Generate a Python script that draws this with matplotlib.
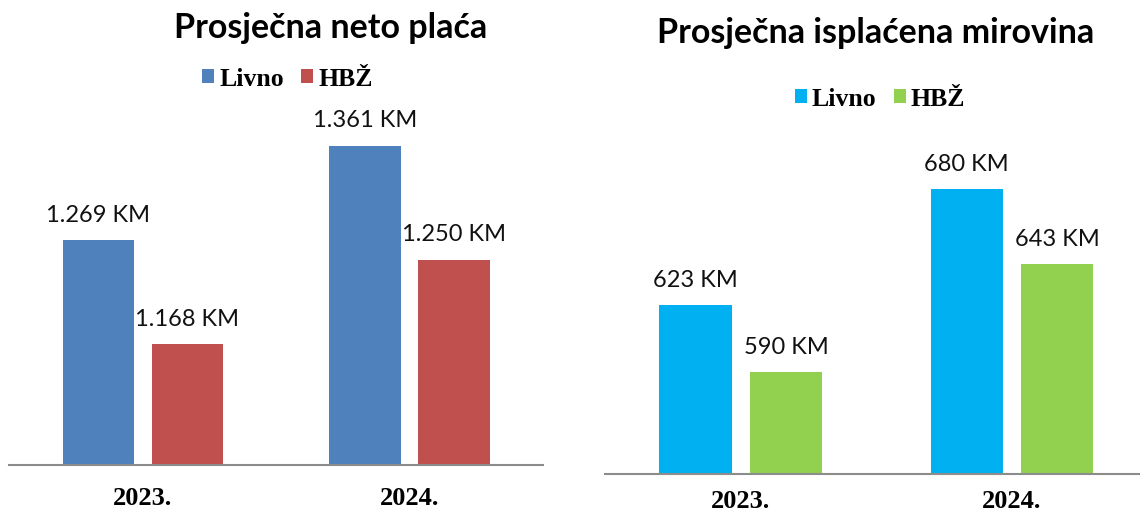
import matplotlib
matplotlib.use("Agg")
import matplotlib.pyplot as plt
import numpy as np

# ── Data ──────────────────────────────────────────────────────────────────────
years          = ["2023.", "2024."]
series         = ["Livno", "HBŽ"]
placa_livno    = [1269, 1361]
placa_hbz      = [1168, 1250]
mirovina_livno = [623, 680]
mirovina_hbz   = [590, 643]

# ── Style ─────────────────────────────────────────────────────────────────────
LIVNO_1, HBZ_1 = "#4F81BD", "#C0504D"
LIVNO_2, HBZ_2 = "#00B0F0", "#92D050"
AXIS_COL       = "#8C8C8C"
LABEL_FONT     = "Lato"
SERIF          = "Liberation Serif"

W, H = 1140, 515
fig = plt.figure(figsize=(W / 100, H / 100), dpi=100)
fig.patch.set_facecolor("white")


def px_box(x0, x1, base, top):
    # pixel coords (from top-left) -> figure fraction rect
    return [x0 / W, 1 - base / H, (x1 - x0) / W, (base - top) / H]


def km(v):
    return f"{v:,}".replace(",", ".") + " KM"


def draw(ax, livno, hbz, colors, ylim, tick_pad):
    x = np.arange(len(years))
    w = 0.267
    b1 = ax.bar(x - 0.1667, livno, w, color=colors[0], label=series[0])
    b2 = ax.bar(x + 0.1667, hbz, w, color=colors[1], label=series[1])
    for bars, vals in ((b1, livno), (b2, hbz)):
        for r, v in zip(bars, vals):
            ax.annotate(km(v), (r.get_x() + r.get_width() / 2, v),
                        xytext=(0, 13.3), textcoords="offset points",
                        ha="center", va="baseline",
                        fontfamily=LABEL_FONT, fontsize=17, color="#111111")
    ax.set_xlim(-0.5, len(years) - 0.5)
    ax.set_ylim(*ylim)
    ax.set_xticks(x, labels=years, fontfamily=SERIF, fontweight="bold",
                  fontsize=19, va="baseline")
    ax.tick_params(axis="x", length=0, pad=tick_pad)
    ax.set_yticks([])
    for s in ("left", "right", "top"):
        ax.spines[s].set_visible(False)
    ax.spines["bottom"].set_color(AXIS_COL)
    ax.spines["bottom"].set_linewidth(1.5)
    ax.patch.set_alpha(0)
    return b1, b2


# ── Left: neto plaća ─────────────────────────────────────────────────────────
ax1 = fig.add_axes(px_box(9.3, 543, 465.3, 465.3 - 350 * 1.0275))
h1 = draw(ax1, placa_livno, placa_hbz, (LIVNO_1, HBZ_1), (1050, 1400), 28.6)

# ── Right: mirovina ──────────────────────────────────────────────────────────
ax2 = fig.add_axes(px_box(605, 1147.6, 474.3, 474.3 - 160 * 2.038))
h2 = draw(ax2, mirovina_livno, mirovina_hbz, (LIVNO_2, HBZ_2), (540, 700), 24.5)

# ── Titles & legends ─────────────────────────────────────────────────────────
fig.text(331 / W, 1 - 38 / H, "Prosječna neto plaća", ha="center",
         va="baseline", fontfamily=LABEL_FONT, fontweight="bold", fontsize=24.5)
fig.text(876 / W, 1 - 43 / H, "Prosječna isplaćena mirovina", ha="center",
         va="baseline", fontfamily=LABEL_FONT, fontweight="bold", fontsize=24.5)

leg_kw = dict(loc="center", ncol=2, frameon=False,
              prop=dict(family=SERIF, weight="bold", size=18.5),
              handlelength=0.47, handleheight=0.47, handletextpad=0.2,
              columnspacing=0.66, borderpad=0, borderaxespad=0)
fig.legend(handles=list(h1), labels=series,
           bbox_to_anchor=(287.5 / W, 1 - 79 / H), **leg_kw)
fig.legend(handles=list(h2), labels=series,
           bbox_to_anchor=(880 / W, 1 - 99 / H), **leg_kw)

fig.savefig("out.png", dpi=100)
